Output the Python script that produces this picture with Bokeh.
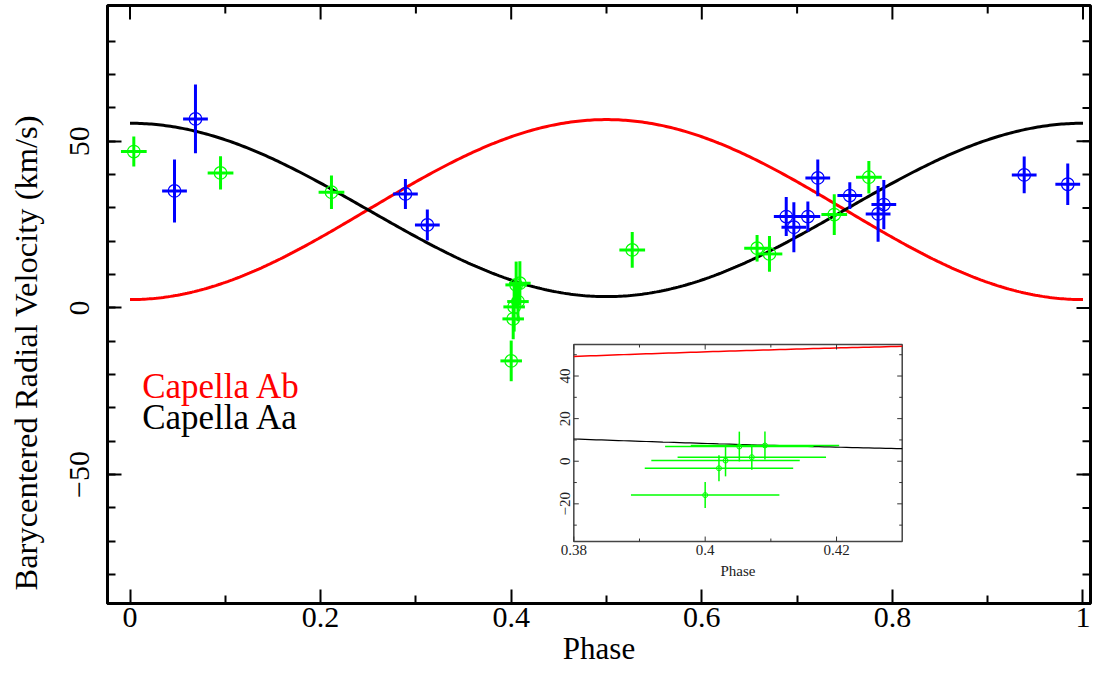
import numpy as np
from bokeh.plotting import figure
from bokeh.models import Range1d, FixedTicker, Label, Title
from bokeh.core.properties import value
from bokeh.embed import file_html
from bokeh.resources import INLINE

# ---------------- data ----------------
phase_green = [0.004, 0.095, 0.2114, 0.400, 0.4021, 0.4031, 0.4052, 0.4071, 0.4091,
               0.527, 0.658, 0.671, 0.739, 0.7753]
vel_green = [46.9, 40.5, 34.7, -15.9, -3.3, 0.3, 6.9, 1.9, 7.4,
             17.4, 17.9, 16.2, 28.0, 39.2]
velerr_green = [4.5, 5.0, 5.0, 6.1, 6.1, 7.4, 7.0, 5.9, 6.6,
                5.35, 4.0, 5.35, 6.1, 4.9]
phaseerr_green = [0.0135, 0.0135, 0.0135, 0.0113, 0.0113, 0.0113, 0.0113, 0.0113, 0.0113,
                  0.0135, 0.0135, 0.0135, 0.0135, 0.0135]

phase_blue = [0.0467, 0.0687, 0.289, 0.312, 0.6886, 0.6966, 0.7113, 0.7217,
              0.7553, 0.785, 0.791, 0.9383, 0.984]
vel_blue = [35.1, 56.7, 34.2, 24.9, 27.4, 24.2, 27.4, 39.0,
            33.7, 28.2, 31.0, 39.9, 37.1]
velerr_blue = [9.45, 10.3, 4.5, 4.65, 5.85, 7.5, 4.5, 5.5,
               4.0, 8.35, 7.4, 5.5, 6.25]
phaseerr_blue = [0.013] * 13

# orbit model parameters (circular orbit curves)
gamma_aa, k_aa = 29.4, 26.0
gamma_ab, k_ab = 29.5, 27.0

x_major = [0, 0.2, 0.4, 0.6, 0.8, 1]
x_major_labels = ["0", "0.2", "0.4", "0.6", "0.8", "1"]
x_minor = [0.1, 0.3, 0.5, 0.7, 0.9]
y_major = [-50, 0, 50]
y_major_labels = ["\u221250", "0", "50"]
y_minor = list(range(-80, 81, 10))

inset_xlim = (0.38, 0.43)
inset_ylim = (-37.7, 54.8)
inset_x_major = [0.38, 0.40, 0.42]
inset_x_major_labels = ["0.38", "0.4", "0.42"]
inset_x_minor = [0.39, 0.41]
inset_y_major = [-20, 0, 20, 40]
inset_y_major_labels = ["\u221220", "0", "20", "40"]
inset_y_minor = [-30, -10, 10, 30, 50]

legend_texts = ["Capella Ab", "Capella Aa"]
legend_colors = ["#ff0000", "black"]
x_title = "Phase"
y_title = "Barycentered Radial Velocity (km/s)"

# ---------------- layout / style ----------------
FONT = "Liberation Serif"
W, H = 1093, 671
BL, BR, BT, BB = 107, 3, 5, 68
x_range = Range1d(-0.02361, 1.00787)
y_range = Range1d(-88.69, 90.73)
inset_target_x = (0.4657, 0.8103)
inset_target_y = (-70.1, -10.98)

p = figure(width=W, height=H, x_range=x_range, y_range=y_range,
           output_backend="svg", toolbar_location=None,
           min_border_left=BL, min_border_right=BR,
           min_border_top=BT, min_border_bottom=BB)
p.grid.visible = False
p.outline_line_color = "black"
p.outline_line_width = 3
p.background_fill_color = "white"
p.border_fill_color = "white"

xt = FixedTicker(ticks=x_major, minor_ticks=x_minor)
yt = FixedTicker(ticks=y_major, minor_ticks=y_minor)

xa = p.xaxis[0]
ya = p.yaxis[0]
xa.ticker = xt
ya.ticker = yt
xa.major_label_overrides = dict(zip(x_major, x_major_labels))
ya.major_label_overrides = dict(zip(y_major, y_major_labels))
ya.major_label_orientation = "vertical"

for ax in (xa, ya):
    ax.major_tick_in = 14
    ax.major_tick_out = 0
    ax.minor_tick_in = 8
    ax.minor_tick_out = 0
    ax.major_tick_line_width = 2
    ax.minor_tick_line_width = 2
    ax.axis_line_width = 3
    ax.major_tick_line_color = "black"
    ax.minor_tick_line_color = "black"
    ax.major_label_text_font = FONT
    ax.major_label_text_font_size = "30px"
    ax.major_label_text_color = "black"
xa.major_label_standoff = 4
ya.major_label_standoff = 18
xa.axis_label = x_title
xa.axis_label_standoff = 1
xa.axis_label_text_font = FONT
xa.axis_label_text_font_size = "31px"
xa.axis_label_text_font_style = "normal"
xa.axis_label_text_color = "black"

# y title as a side-panel title (starts near the bottom, like the reference)
title_style = dict(text=y_title, align="left", offset=13,
                   text_font=FONT, text_font_size="32.5px", text_font_style="normal",
                   text_color="black")
try:
    ytitle = Title(standoff=0, vertical_align="bottom",
                   padding=dict(top=0, right=0, bottom=24, left=0), **title_style)
except Exception:
    ytitle = Title(standoff=14, vertical_align="top", **title_style)
p.add_layout(ytitle, "left")

# ticks on the top and right sides (inside)
nx, nxm = len(x_major), len(x_minor)
p.ray(x=x_major, y=[y_range.end] * nx, length=14, angle=-np.pi / 2,
      length_units="screen", line_color="black", line_width=2)
p.ray(x=x_minor, y=[y_range.end] * nxm, length=8, angle=-np.pi / 2,
      length_units="screen", line_color="black", line_width=2)
ny, nym = len(y_major), len(y_minor)
p.ray(x=[x_range.end] * ny, y=y_major, length=14, angle=np.pi,
      length_units="screen", line_color="black", line_width=2)
p.ray(x=[x_range.end] * nym, y=y_minor, length=8, angle=np.pi,
      length_units="screen", line_color="black", line_width=2)

# ---------------- model curves ----------------
ph = np.linspace(0, 1, 401)
v_aa = gamma_aa + k_aa * np.cos(2 * np.pi * ph)
v_ab = gamma_ab - k_ab * np.cos(2 * np.pi * ph)
p.line(ph, v_ab, line_color="#ff0000", line_width=3)
p.line(ph, v_aa, line_color="black", line_width=3)


def draw_points(target, x, y, yerr, xerr, color, lw, size, clw):
    x = np.asarray(x); y = np.asarray(y)
    yerr = np.asarray(yerr); xerr = np.asarray(xerr)
    target.segment(x0=x, x1=x, y0=y - yerr, y1=y + yerr, line_color=color, line_width=lw)
    target.segment(x0=x - xerr, x1=x + xerr, y0=y, y1=y, line_color=color, line_width=lw)
    target.scatter(x=x, y=y, marker="circle", size=size, fill_color=None,
                   line_color=color, line_width=clw)


draw_points(p, phase_green, vel_green, velerr_green, phaseerr_green, "#00ff00", 3, 12.6, 1.2)
draw_points(p, phase_blue, vel_blue, velerr_blue, phaseerr_blue, "#0000ff", 3, 12.6, 1.2)

# legend texts
for txt, col, ly in zip(legend_texts, legend_colors, [-23.5, -33.0]):
    p.add_layout(Label(x=0.0128, y=ly, text=txt, text_color=col,
                       text_font=FONT, text_font_size="35px", text_baseline="alphabetic"))

# ---------------- inset ----------------
sub = p.subplot(x_source=Range1d(*inset_xlim), y_source=Range1d(*inset_ylim),
                x_target=Range1d(*inset_target_x), y_target=Range1d(*inset_target_y))

sub.quad(left=[inset_xlim[0]], right=[inset_xlim[1]], bottom=[inset_ylim[0]], top=[inset_ylim[1]],
         fill_color="white", line_color="#444444", line_width=1.5)

phi = np.linspace(inset_xlim[0], inset_xlim[1], 60)
sub.line(phi, gamma_ab - k_ab * np.cos(2 * np.pi * phi), line_color="#ff0000", line_width=1.5)
sub.line(phi, gamma_aa + k_aa * np.cos(2 * np.pi * phi), line_color="black", line_width=1.2)

sel = [i for i, v in enumerate(phase_green) if inset_xlim[0] <= v <= inset_xlim[1]]
draw_points(sub, [phase_green[i] for i in sel], [vel_green[i] for i in sel],
            [velerr_green[i] for i in sel], [phaseerr_green[i] for i in sel],
            "#00ff00", 1.5, 5, 1)


def ticks_x(vals, length):
    n = len(vals)
    sub.ray(x=vals, y=[inset_ylim[0]] * n, length=length, angle=np.pi / 2,
            length_units="screen", line_color="#333333", line_width=1)
    sub.ray(x=vals, y=[inset_ylim[1]] * n, length=length, angle=-np.pi / 2,
            length_units="screen", line_color="#333333", line_width=1)


def ticks_y(vals, length):
    n = len(vals)
    sub.ray(x=[inset_xlim[0]] * n, y=vals, length=length, angle=0,
            length_units="screen", line_color="#333333", line_width=1)
    sub.ray(x=[inset_xlim[1]] * n, y=vals, length=length, angle=np.pi,
            length_units="screen", line_color="#333333", line_width=1)


ticks_x(inset_x_major, 5)
ticks_x(inset_x_minor, 3)
ticks_y(inset_y_major, 5)
ticks_y(inset_y_minor, 3)

sub.text(x=inset_x_major, y=[inset_ylim[0]] * 3, text=inset_x_major_labels,
         text_font=value(FONT), text_font_size=value("15px"), text_color="#222222",
         text_align="center", text_baseline="top", y_offset=3)
sub.text(x=[inset_xlim[0]] * 4, y=inset_y_major, text=inset_y_major_labels,
         text_font=value(FONT), text_font_size=value("15px"), text_color="#222222",
         text_align="center", text_baseline="bottom", angle=np.pi / 2, x_offset=-4)
sub.text(x=[(inset_xlim[0] + inset_xlim[1]) / 2], y=[inset_ylim[0]], text=[x_title],
         text_font=value(FONT), text_font_size=value("15px"), text_color="#222222",
         text_align="center", text_baseline="top", y_offset=21)

open("out.html", "w").write(file_html(p, INLINE))
